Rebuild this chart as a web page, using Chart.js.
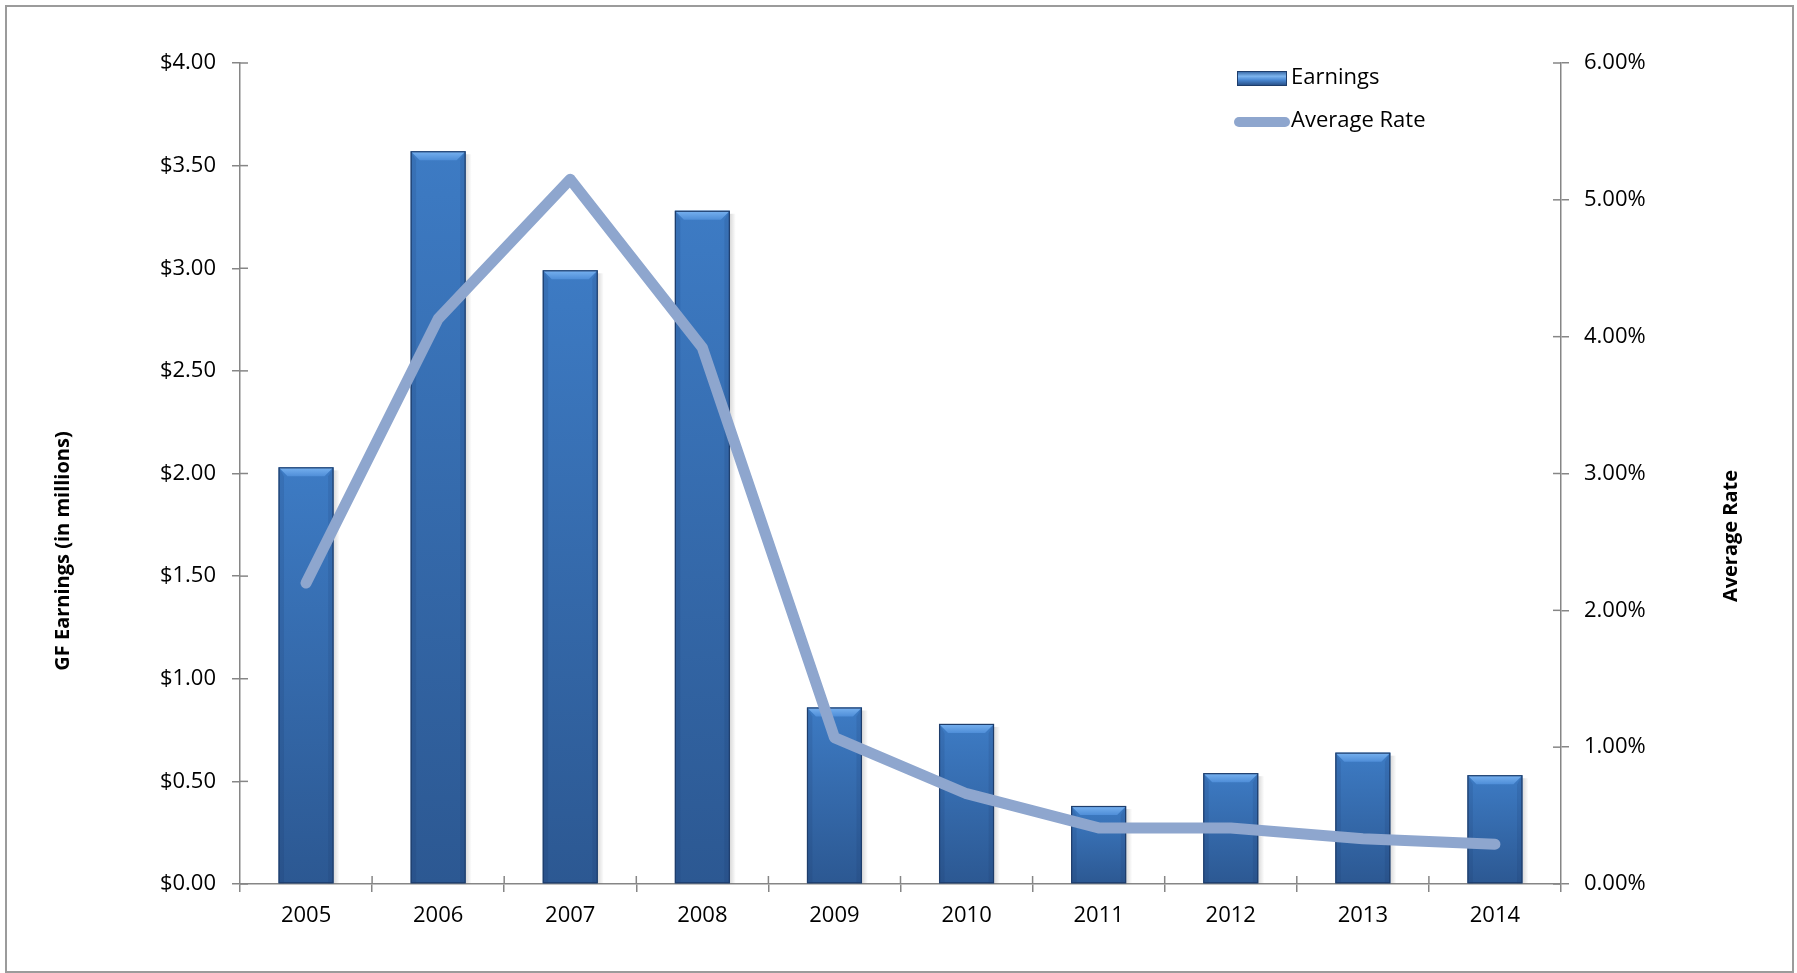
<!DOCTYPE html>
<html><head><meta charset="utf-8">
<script src="https://cdn.jsdelivr.net/npm/chart.js@4.4.1/dist/chart.umd.min.js"></script>
<style>html,body{margin:0;padding:0;background:#fff;overflow:hidden}#wrap{position:relative;width:1797px;height:973px}</style>
</head><body><div id="wrap"><canvas id="c" width="1797" height="973"></canvas></div>
<script>
const years = ['2005','2006','2007','2008','2009','2010','2011','2012','2013','2014'];
const earnings = [2.03, 3.57, 2.99, 3.28, 0.86, 0.78, 0.38, 0.54, 0.64, 0.53];
const avgRate = [2.20, 4.13, 5.15, 3.92, 1.07, 0.66, 0.41, 0.41, 0.33, 0.29];
const earningsLabel = 'Earnings';
const rateLabel = 'Average Rate';
const leftTitle = 'GF Earnings (in millions)';
const rightTitle = 'Average Rate';
const earningsMax = 4, earningsStep = 0.5;
const rateMax = 6, rateStep = 1;

const FONT = "'Open Sans', 'DejaVu Sans', sans-serif";
const AXIS = '#868686';
const LINE = '#8EA6CE';

function barGradient(ctx, top, bottom) {
  const g = ctx.createLinearGradient(0, top, 0, bottom);
  g.addColorStop(0, '#3D7BC4');
  g.addColorStop(1, '#2C5892');
  return g;
}

const extras = {
  id: 'extras',
  beforeDraw(chart) {
    const ctx = chart.ctx;
    ctx.save();
    ctx.fillStyle = '#fff';
    ctx.fillRect(0, 0, chart.width, chart.height);
    ctx.strokeStyle = '#9B9B9B';
    ctx.lineWidth = 2;
    ctx.strokeRect(6, 6, 1787, 966);
    ctx.restore();
  },
  afterDatasetDraw(chart, args) {
    if (args.index !== 0) return;
    const ctx = chart.ctx;
    const meta = chart.getDatasetMeta(0);
    ctx.save();
    meta.data.forEach(bar => {
      const { x, y, width, base } = bar.getProps(['x', 'y', 'width', 'base'], true);
      const l = x - width / 2, r = x + width / 2;
      const b = Math.min(9, (base - y) / 2);
      // shadow
      const sg = ctx.createLinearGradient(r, 0, r + 6, 0);
      sg.addColorStop(0, 'rgba(0,0,0,0.15)');
      sg.addColorStop(1, 'rgba(0,0,0,0)');
      ctx.fillStyle = sg;
      ctx.fillRect(r, y + 3, 6, base - y - 3);
      // side bevels
      ctx.fillStyle = 'rgba(20,45,90,0.13)';
      ctx.beginPath(); ctx.moveTo(l, y); ctx.lineTo(l + b * 0.6, y + b); ctx.lineTo(l + b * 0.6, base); ctx.lineTo(l, base); ctx.closePath(); ctx.fill();
      ctx.beginPath(); ctx.moveTo(r, y); ctx.lineTo(r - b * 0.6, y + b); ctx.lineTo(r - b * 0.6, base); ctx.lineTo(r, base); ctx.closePath(); ctx.fill();
      // top bevel
      const tg = ctx.createLinearGradient(0, y, 0, y + b);
      tg.addColorStop(0, '#78B2F0');
      tg.addColorStop(1, '#4F8ED8');
      ctx.fillStyle = tg;
      ctx.beginPath(); ctx.moveTo(l, y); ctx.lineTo(r, y); ctx.lineTo(r - b, y + b); ctx.lineTo(l + b, y + b); ctx.closePath(); ctx.fill();
      ctx.strokeStyle = '#1E3D6B';
      ctx.lineWidth = 1.2;
      ctx.strokeRect(l + 0.5, y + 0.5, width - 1, base - y - 1);
    });
    ctx.restore();
  },
  afterDraw(chart) {
    const ctx = chart.ctx;
    const ca = chart.chartArea;
    const xs = chart.scales.x, ys = chart.scales.y, y1 = chart.scales.y1;
    ctx.save();
    ctx.strokeStyle = AXIS;
    ctx.lineWidth = 1.5;
    ys.ticks.forEach((t, i) => {
      const p = ys.getPixelForTick(i);
      ctx.beginPath(); ctx.moveTo(ca.left, p); ctx.lineTo(ca.left + 8, p); ctx.stroke();
    });
    y1.ticks.forEach((t, i) => {
      const p = y1.getPixelForTick(i);
      ctx.beginPath(); ctx.moveTo(ca.right - 8, p); ctx.lineTo(ca.right, p); ctx.stroke();
    });
    const n = xs.ticks.length;
    const step = (ca.right - ca.left) / n;
    for (let i = 1; i < n; i++) {
      const p = ca.left + i * step;
      ctx.beginPath(); ctx.moveTo(p, ca.bottom - 8); ctx.lineTo(p, ca.bottom); ctx.stroke();
    }
    ctx.fillStyle = '#000';
    ctx.font = `bold 20px ${FONT}`;
    ctx.textAlign = 'center';
    ctx.textBaseline = 'middle';
    ctx.save(); ctx.translate(63, 551); ctx.rotate(-Math.PI / 2); ctx.fillText(leftTitle, 0, 0); ctx.restore();
    ctx.save(); ctx.translate(1731, 536); ctx.rotate(-Math.PI / 2); ctx.fillText(rightTitle, 0, 0); ctx.restore();
    const ds = chart.data.datasets;
    ctx.font = `22px ${FONT}`;
    ctx.textAlign = 'left';
    const g = ctx.createLinearGradient(0, 71, 0, 86);
    g.addColorStop(0, '#2E5E9C'); g.addColorStop(0.35, '#7DB4EE'); g.addColorStop(0.6, '#4A88D2'); g.addColorStop(1, '#24497E');
    ctx.fillStyle = g;
    ctx.fillRect(1237, 71, 50, 15);
    ctx.strokeStyle = '#1E3D6B'; ctx.lineWidth = 1;
    ctx.strokeRect(1237.5, 71.5, 49, 14);
    ctx.fillStyle = '#000';
    ctx.fillText(ds[0].label, 1291, 78);
    ctx.strokeStyle = LINE; ctx.lineWidth = 10; ctx.lineCap = 'round';
    ctx.beginPath(); ctx.moveTo(1239, 122); ctx.lineTo(1285, 122); ctx.stroke();
    ctx.fillText(ds[1].label, 1291, 121);
    ctx.restore();
  }
};

new Chart(document.getElementById('c'), {
  data: {
    labels: years,
    datasets: [
      {
        type: 'bar', label: earningsLabel, data: earnings, yAxisID: 'y', order: 2,
        categoryPercentage: 1, barPercentage: 0.416,
        backgroundColor: (c) => {
          const ch = c.chart; if (!ch.chartArea || c.raw === undefined) return '#3570B5';
          const top = ch.scales.y.getPixelForValue(c.raw);
          return barGradient(ch.ctx, top, ch.chartArea.bottom);
        },
        borderWidth: 0
      },
      {
        type: 'line', label: rateLabel, data: avgRate, yAxisID: 'y1', order: 1,
        borderColor: LINE, borderWidth: 11, pointRadius: 0, tension: 0,
        borderCapStyle: 'round', borderJoinStyle: 'round', fill: false
      }
    ]
  },
  options: {
    responsive: false, animation: false, devicePixelRatio: 1,
    layout: { padding: { top: 63, left: 0, right: 0, bottom: 0 } },
    plugins: { legend: { display: false }, tooltip: { enabled: false } },
    scales: {
      x: {
        offset: true,
        grid: { offset: true, drawOnChartArea: false, tickLength: 8, color: AXIS, lineWidth: 1.5 },
        border: { color: AXIS, width: 1.5 },
        ticks: { color: '#000', font: { family: FONT, size: 22 }, padding: 11, maxRotation: 0 },
        afterFit: s => { s.height = 89; }
      },
      y: {
        position: 'left', min: 0, max: earningsMax,
        grid: { drawOnChartArea: false, tickLength: 8, color: AXIS, lineWidth: 1.5 },
        border: { color: AXIS, width: 1.5 },
        ticks: { stepSize: earningsStep, color: '#000', font: { family: FONT, size: 22 }, padding: 16,
          callback: v => '$' + Number(v).toFixed(2) },
        afterFit: s => { s.width = 240; }
      },
      y1: {
        position: 'right', min: 0, max: rateMax,
        grid: { drawOnChartArea: false, tickLength: 8, color: AXIS, lineWidth: 1.5 },
        border: { color: AXIS, width: 1.5 },
        ticks: { stepSize: rateStep, color: '#000', font: { family: FONT, size: 22 }, padding: 15,
          callback: v => Number(v).toFixed(2) + '%' },
        afterFit: s => { s.width = 236; }
      }
    }
  },
  plugins: [extras]
});
</script>
</body></html>
